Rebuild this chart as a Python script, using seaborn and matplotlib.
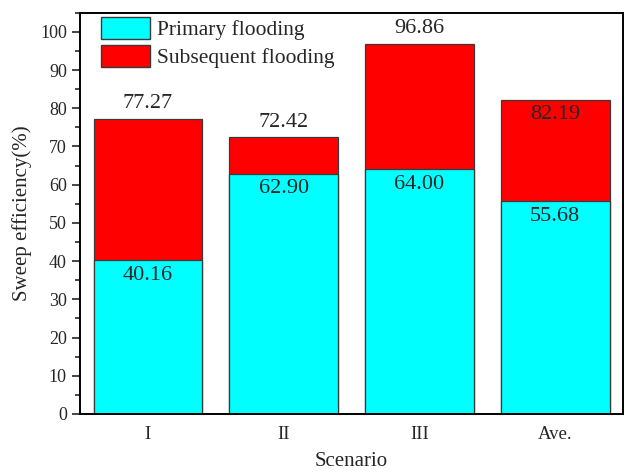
import matplotlib
matplotlib.use("Agg")
import matplotlib.pyplot as plt
from matplotlib.patches import Patch
from matplotlib.ticker import MultipleLocator
import seaborn as sns
import pandas as pd

scenarios = ["I", "II", "III", "Ave."]
primary = [40.16, 62.90, 64.00, 55.68]
total = [77.27, 72.42, 96.86, 82.19]
total_inside = [False, False, False, True]

sns.set_style("white")
plt.rcParams["font.family"] = ["Liberation Serif", "DejaVu Serif"]

df = pd.DataFrame({"Scenario": scenarios, "Primary": primary, "Total": total})

fig = plt.figure(figsize=(6.25, 4.72), dpi=100)
ax = fig.add_axes([0.128, 0.123, 0.869, 0.850])

edge = "#3a3a3a"
sns.barplot(data=df, x="Scenario", y="Total", color="#FF0000", width=0.8,
            edgecolor=edge, linewidth=0.9, saturation=1, ax=ax)
sns.barplot(data=df, x="Scenario", y="Primary", color="#00FFFF", width=0.8,
            edgecolor=edge, linewidth=0.9, saturation=1, ax=ax)

for i, (p, t, inside) in enumerate(zip(primary, total, total_inside)):
    ax.annotate(f"{p:.2f}", (i, p), xytext=(0, -4), textcoords="offset points",
                ha="center", va="top", fontsize=16)
    if inside:
        ax.annotate(f"{t:.2f}", (i, t), xytext=(0, -4), textcoords="offset points",
                    ha="center", va="top", fontsize=16)
    else:
        ax.annotate(f"{t:.2f}", (i, t), xytext=(0, 4), textcoords="offset points",
                    ha="center", va="bottom", fontsize=16)

ax.set_xlim(-0.5, 3.5)
ax.set_ylim(0, 105)
ax.yaxis.set_major_locator(MultipleLocator(10))
ax.yaxis.set_minor_locator(MultipleLocator(5))
ax.tick_params(axis="y", which="major", direction="out", length=6, width=1.2,
               labelsize=13, left=True)
ax.tick_params(axis="y", which="minor", direction="out", length=3.5, width=1.2, left=True)
ax.tick_params(axis="x", length=0, labelsize=13.5, pad=9)

for side in ["left", "bottom", "top", "right"]:
    ax.spines[side].set_visible(True)
    ax.spines[side].set_color("black")
    ax.spines[side].set_linewidth(1.4)

ax.set_xlabel("Scenario", fontsize=15, labelpad=6)
ax.set_ylabel("Sweep efficiency(%)", fontsize=15, labelpad=6)

handles = [Patch(facecolor="#00FFFF", edgecolor=edge, label="Primary flooding"),
           Patch(facecolor="#FF0000", edgecolor=edge, label="Subsequent flooding")]
ax.legend(handles=handles, loc="upper left", bbox_to_anchor=(0.03, 1.0),
          frameon=False, fontsize=15.5, handlelength=2.3, handleheight=1.2,
          handletextpad=0.3, labelspacing=0.2, borderaxespad=0.0,
          borderpad=0.2)

fig.savefig("out.png", dpi=100)
